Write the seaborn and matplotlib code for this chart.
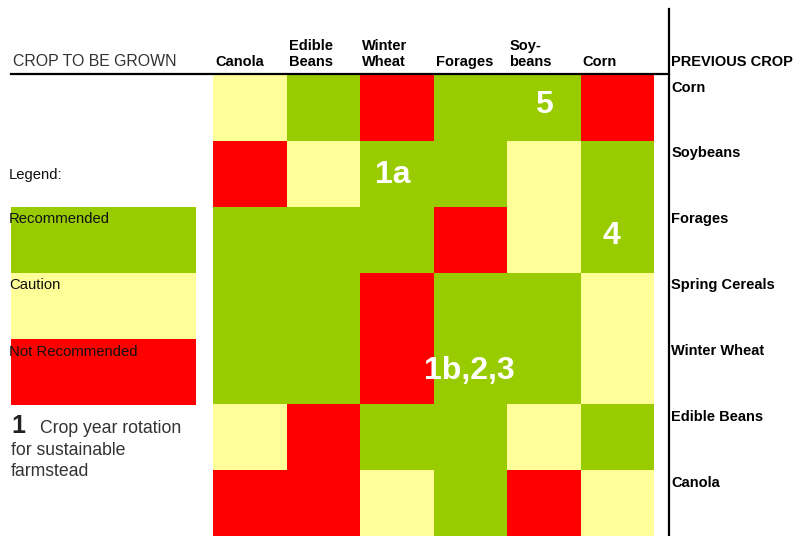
import numpy as np
import pandas as pd
import seaborn as sns
import matplotlib.pyplot as plt
from matplotlib.colors import ListedColormap
from matplotlib.patches import Rectangle
from matplotlib.lines import Line2D

# crop to be grown (columns) and previous crop (rows)
crops_grown = ["Canola", "Edible\nBeans", "Winter\nWheat", "Forages", "Soy-\nbeans", "Corn"]
previous_crops = ["Corn", "Soybeans", "Forages", "Spring Cereals",
                  "Winter Wheat", "Edible Beans", "Canola"]

# 0 = Recommended, 1 = Caution, 2 = Not Recommended
after_corn = [1, 0, 2, 0, 0, 2]
after_soybeans = [2, 1, 0, 0, 1, 0]
after_forages = [0, 0, 0, 2, 1, 0]
after_spring_cereals = [0, 0, 2, 0, 0, 1]
after_winter_wheat = [0, 0, 2, 0, 0, 1]
after_edible_beans = [1, 2, 0, 0, 1, 0]
after_canola = [2, 2, 1, 0, 2, 1]

legend_labels = ["Recommended", "Caution", "Not Recommended"]
legend_colors = ["#99CC00", "#FFFF99", "#FF0000"]

# footnote markers: (previous crop, crop grown, text)
notes = [("Corn", "Soy-\nbeans", "5"),
         ("Soybeans", "Winter\nWheat", "1a"),
         ("Forages", "Corn", "4"),
         ("Winter Wheat", "Forages", "1b,2,3")]
# small nudges of the markers inside their cells (in cell units)
note_nudge = [(0, -0.04), (-0.05, 0.02), (-0.08, -0.06), (-0.01, -0.01)]

df = pd.DataFrame([after_corn, after_soybeans, after_forages, after_spring_cereals,
                   after_winter_wheat, after_edible_beans, after_canola],
                  index=previous_crops, columns=crops_grown)

plt.rcParams['font.family'] = ['Liberation Sans', 'DejaVu Sans']

W, H = 797, 536
fig = plt.figure(figsize=(W / 100, H / 100), dpi=100)


def fx(x):
    return x / W


def fy(y):
    return 1 - y / H


ax = fig.add_axes([fx(213), 0, (654 - 213) / W, (536 - 75) / H])
sns.heatmap(df, ax=ax, cmap=ListedColormap(legend_colors), vmin=-0.5, vmax=2.5,
            cbar=False, linewidths=0)

# column headers on top, left aligned to each column
ax.xaxis.tick_top()
ax.set_xticks(np.arange(len(crops_grown)) + 0.03)
ax.set_xticklabels(crops_grown, rotation=0, ha='left', va='bottom',
                   fontsize=10.5, fontweight='bold', linespacing=1.2)
# previous crop labels on the right, near top of each row
ax.yaxis.tick_right()
ax.set_yticks(np.arange(len(previous_crops)) + 0.19)
ax.set_yticklabels(previous_crops, rotation=0, ha='left', va='center',
                   fontsize=10.5, fontweight='bold')
ax.tick_params(axis='x', length=0, pad=4.3)
ax.tick_params(axis='y', length=0, pad=12.5)
ax.set_xlabel('')
ax.set_ylabel('')

for (prev, grown, txt), (dx, dy) in zip(notes, note_nudge):
    c = crops_grown.index(grown) + 0.5 + dx
    r = previous_crops.index(prev) + 0.5 + dy
    ax.text(c, r, txt, color='white', fontsize=23, fontweight='bold',
            ha='center', va='center')

# header texts
fig.text(fx(13), fy(66.5), "CROP TO BE GROWN", fontsize=11.4, color='#333333',
         va='baseline')
fig.text(fx(671), fy(66), "PREVIOUS CROP", fontsize=10.5, fontweight='bold',
         va='baseline')

# separator lines
fig.add_artist(Line2D([fx(11), fx(669)], [fy(73.5), fy(73.5)], color='black', lw=1.6))
fig.add_artist(Line2D([fx(669), fx(669)], [fy(9), fy(536)], color='black', lw=1.6))

# legend block
fig.text(fx(9), fy(179), "Legend:", fontsize=10.7, color='#111111', va='baseline')
for i, (lab, col) in enumerate(zip(legend_labels, legend_colors)):
    top = 206.5 + i * 66.3
    fig.add_artist(Rectangle((fx(11), fy(top + 66.3)), 185 / W, 66.3 / H,
                             transform=fig.transFigure, color=col, lw=0))
    fig.text(fx(9), fy(top + 16.5), lab, fontsize=10.7, color='#111111', va='baseline')

# footnote
fig.text(fx(11), fy(433), "1", fontsize=18, fontweight='bold', color='#222222',
         va='baseline')
fig.text(fx(39.5), fy(433), "Crop year rotation", fontsize=12.7, color='#333333',
         va='baseline')
fig.text(fx(11), fy(455), "for sustainable", fontsize=12.7, color='#333333',
         va='baseline')
fig.text(fx(11), fy(476), "farmstead", fontsize=12.7, color='#333333',
         va='baseline')

fig.savefig("out.png", dpi=100)
